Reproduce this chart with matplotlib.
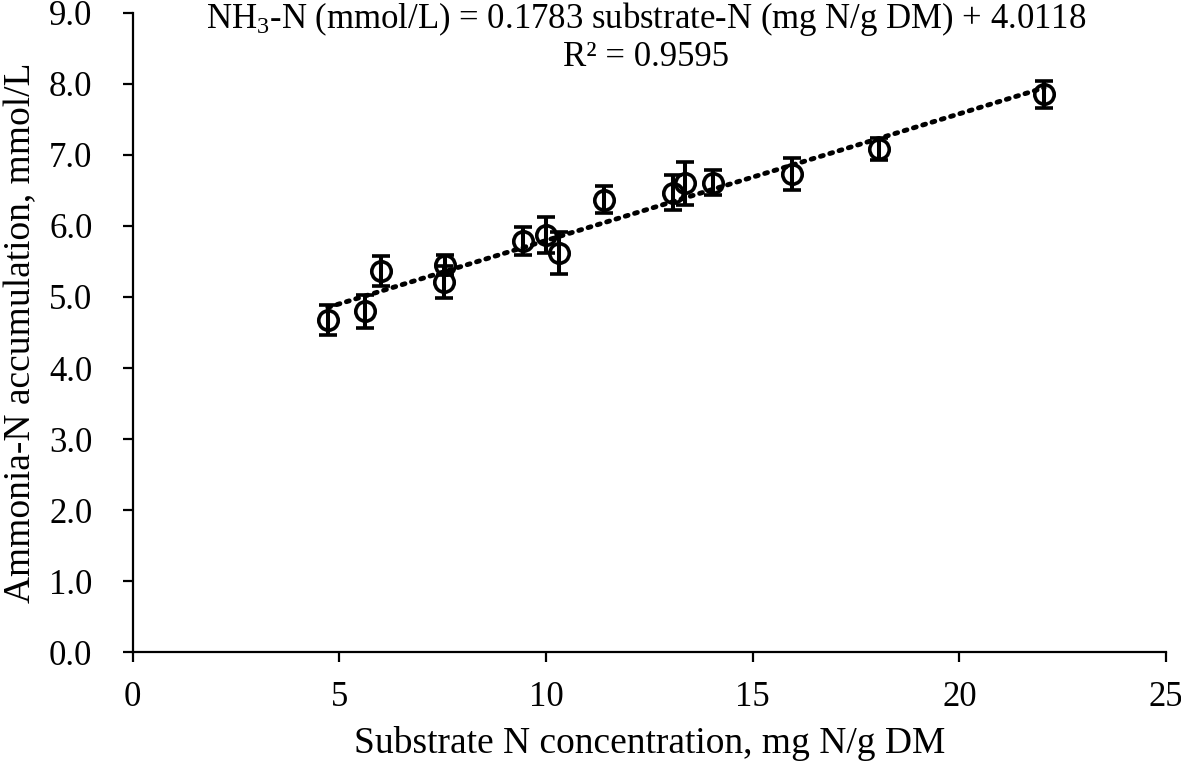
import matplotlib
matplotlib.use("Agg")
import matplotlib.pyplot as plt
import numpy as np

plt.rcParams['font.family'] = ['Liberation Serif', 'DejaVu Serif']
plt.rcParams['mathtext.fontset'] = 'custom'
plt.rcParams['mathtext.rm'] = 'Liberation Serif'
plt.rcParams['mathtext.it'] = 'Liberation Serif:italic'
plt.rcParams['mathtext.bf'] = 'Liberation Serif:bold'

# Data
substrate_n = [4.72, 5.62, 6.01, 7.54, 7.56, 9.44, 9.99, 10.31, 11.40,
               13.07, 13.35, 14.03, 15.96, 18.06, 22.05]
ammonia_n = [4.68, 4.80, 5.36, 5.21, 5.45, 5.79, 5.87, 5.62, 6.37,
             6.47, 6.60, 6.61, 6.73, 7.08, 7.85]
ammonia_err = [0.21, 0.23, 0.21, 0.23, 0.14, 0.20, 0.25, 0.29, 0.19,
               0.25, 0.30, 0.18, 0.23, 0.15, 0.19]

slope = 0.1783
intercept = 4.0118
r_squared = 0.9595

x_ticks = [0, 5, 10, 15, 20, 25]
y_ticks = [0.0, 1.0, 2.0, 3.0, 4.0, 5.0, 6.0, 7.0, 8.0, 9.0]

fig = plt.figure(figsize=(11.81, 7.75), dpi=100)
ax = fig.add_axes([0.1124, 0.1583, 0.8749, 0.8253])

# Trendline
xt = np.array([min(substrate_n), max(substrate_n)])
ax.plot(xt, slope * xt + intercept, color='black', linestyle=(0, (0.6, 1.4)),
        linewidth=3.5, dash_capstyle='round', zorder=2)

ax.errorbar(substrate_n, ammonia_n, yerr=ammonia_err, fmt='o',
            markersize=14, markerfacecolor='none', markeredgecolor='black',
            markeredgewidth=2.6, ecolor='black', elinewidth=2.9,
            capsize=6.5, capthick=3.6, zorder=3)

ax.set_xlim(0, 25)
ax.set_ylim(0, 9)
ax.set_xticks(x_ticks)
ax.set_xticklabels([str(v) for v in x_ticks])
ax.set_yticks(y_ticks)
ax.set_yticklabels([f"{v:.1f}" for v in y_ticks])

for s in ['top', 'right']:
    ax.spines[s].set_visible(False)
for s in ['left', 'bottom']:
    ax.spines[s].set_linewidth(1.6)
ax.tick_params(axis='both', direction='out', length=7, width=1.6,
               labelsize=25, colors='black')
ax.tick_params(axis='x', pad=14)
ax.tick_params(axis='y', pad=22)

ax.set_xlabel('Substrate N concentration, mg N/g DM', fontsize=27, labelpad=8)
ax.set_ylabel('Ammonia-N accumulation, mmol/L', fontsize=27, labelpad=8)

eq = (f"NH$_3$-N (mmol/L) = {slope:.4f} substrate-N (mg N/g DM) + {intercept:.4f}\n"
      f"R² = {r_squared:.4f}")
fig.text(646 / 1181, 1 - 0 / 775, eq, ha='center', va='top', fontsize=25,
         linespacing=1.1)

fig.savefig('out.png', dpi=100)
